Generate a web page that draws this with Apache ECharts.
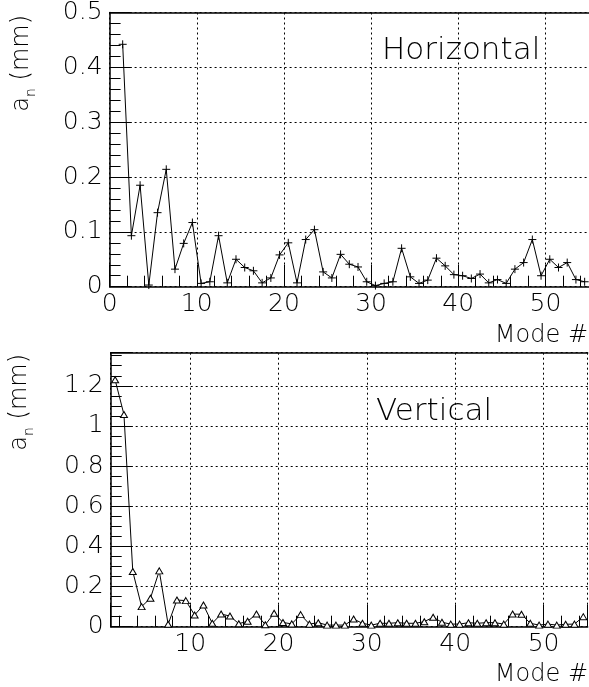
<!DOCTYPE html>
<html>
<head>
<meta charset="utf-8">
<script src="https://cdn.jsdelivr.net/npm/echarts@6/dist/echarts.min.js"></script>
<style>
html,body{margin:0;padding:0;background:#fff;}
#c{width:589px;height:687px;}
</style>
</head>
<body>
<div id="c"></div>
<script>
// Mode positions (bin centres) shared by both panels
const modePos = [1.5,2.5,3.5,4.5,5.5,6.5,7.5,8.5,9.5,10.5,11.5,12.5,13.5,14.5,15.5,16.5,17.5,18.5,19.5,20.5,
  21.5,22.5,23.5,24.5,25.5,26.5,27.5,28.5,29.5,30.5,31.5,32.5,33.5,34.5,35.5,36.5,37.5,38.5,39.5,40.5,
  41.5,42.5,43.5,44.5,45.5,46.5,47.5,48.5,49.5,50.5,51.5,52.5,53.5,54.5];

// Horizontal amplitudes a_n (mm)
const horizAmp = [0.442,0.093,0.185,0.003,0.135,0.214,0.032,0.079,0.117,0.006,
  0.009,0.093,0.007,0.050,0.035,0.029,0.007,0.016,0.058,0.080,
  0.007,0.086,0.104,0.027,0.016,0.059,0.041,0.036,0.009,0.002,
  0.006,0.009,0.070,0.018,0.006,0.012,0.052,0.038,0.022,0.020,
  0.015,0.023,0.007,0.013,0.006,0.032,0.044,0.086,0.020,0.050,
  0.035,0.044,0.013,0.009];

// Vertical amplitudes a_n (mm)
const vertAmp = [1.230,1.057,0.275,0.100,0.142,0.278,0.012,0.133,0.130,0.058,
  0.108,0.017,0.063,0.053,0.015,0.027,0.063,0.010,0.067,0.021,
  0.014,0.060,0.013,0.020,0.008,0.008,0.008,0.038,0.017,0.008,
  0.017,0.017,0.020,0.017,0.017,0.025,0.047,0.022,0.013,0.013,
  0.020,0.017,0.020,0.020,0.013,0.063,0.062,0.017,0.008,0.013,
  0.008,0.012,0.013,0.050];

const FONT = "'DejaVu Sans', sans-serif";
const FW = 200;
const topTitle = 'Horizontal';
const botTitle = 'Vertical';
const xName = 'Mode #';

const chart = echarts.init(document.getElementById('c'), null, {renderer:'canvas'});

const dotted = {show:true, lineStyle:{color:'#000', width:1, type:[2,3]}};
const axisLabelStyle = {color:'#000', fontSize:25, fontFamily:FONT, fontWeight:FW};

function xAxisMain(grid, min, max, extra){
  return Object.assign({
    gridIndex:grid, type:'value', min:min, max:max,
    axisLine:{show:true, onZero:false, lineStyle:{color:'#000', width:1.5}},
    axisTick:{show:true, inside:true, length:22, lineStyle:{color:'#000', width:1}},
    minorTick:{show:true, splitNumber:5, length:11, lineStyle:{color:'#000', width:1}},
    splitLine:dotted,
    axisLabel:Object.assign({margin:5, showMaxLabel:false}, axisLabelStyle)
  }, extra||{});
}
function xAxisTop(grid, min, max){
  return {gridIndex:grid, type:'value', position:'top', min:min, max:max,
    axisLine:{show:true, onZero:false, lineStyle:{color:'#000', width:1.5}},
    axisTick:{show:false}, axisLabel:{show:false}, splitLine:{show:false}};
}
function yAxisMain(grid, min, max, interval, minorSplit, showMax){
  return {gridIndex:grid, type:'value', min:min, max:max, interval:interval,
    axisLine:{show:true, onZero:false, lineStyle:{color:'#000', width:1.5}},
    axisTick:{show:true, inside:true, length:22, lineStyle:{color:'#000', width:1}},
    minorTick:{show:true, splitNumber:minorSplit, length:11, lineStyle:{color:'#000', width:1}},
    splitLine:dotted,
    axisLabel:Object.assign({margin:7, showMaxLabel:showMax}, axisLabelStyle)
  };
}

const plusSymbol = 'path://M0,5L10,5M5,0L5,10';

function yName(x, yTop){
  return {type:'text', x:x, y:yTop, rotation:Math.PI/2,
    style:{text:'{m|a}{s|n}{m| (mm)}', align:'right', verticalAlign:'middle',
      fill:'#000', font:'200 24px ' + FONT,
      rich:{
        m:{fontSize:24, fontFamily:FONT, fontWeight:FW, lineHeight:28, verticalAlign:'top', fill:'#000'},
        s:{fontSize:14, fontFamily:FONT, fontWeight:FW, lineHeight:15, verticalAlign:'bottom', fill:'#000'}
      }}};
}

chart.setOption({
  animation:false,
  backgroundColor:'#fff',
  grid:[
    {left:109.6, top:12, width:481.8, height:274.7, containLabel:false},
    {left:110.7, top:352.7, width:477, height:274, containLabel:false}
  ],
  xAxis:[
    xAxisMain(0, 0, 55, {interval:10}),
    xAxisTop(0, 0, 55),
    xAxisMain(1, 1, 55, {splitNumber:5, axisLabel:Object.assign({margin:5, showMaxLabel:false, showMinLabel:false}, axisLabelStyle)}),
    xAxisTop(1, 1, 55)
  ],
  yAxis:[
    yAxisMain(0, 0, 0.5, 0.1, 5, true),
    yAxisMain(1, 0, 1.365, 0.2, 4, false)
  ],
  series:[
    {type:'line', xAxisIndex:0, yAxisIndex:0,
      data:modePos.map((x,i)=>[x, horizAmp[i]]),
      symbol:plusSymbol, symbolSize:8, showAllSymbol:true,
      lineStyle:{color:'#000', width:1},
      itemStyle:{color:'#000', borderColor:'#000', borderWidth:1}},
    {type:'line', xAxisIndex:2, yAxisIndex:1,
      data:modePos.map((x,i)=>[x, vertAmp[i]]),
      symbol:'triangle', symbolSize:[7,6], showAllSymbol:true,
      lineStyle:{color:'#000', width:1},
      itemStyle:{color:'#fff', borderColor:'#000', borderWidth:1}}
  ],
  graphic:[
    {type:'text', x:382, y:51, style:{text:topTitle, fill:'#000', font:'200 31px ' + FONT, verticalAlign:'middle', align:'left'}},
    {type:'text', x:376, y:412, style:{text:botTitle, fill:'#000', font:'200 31px ' + FONT, verticalAlign:'middle', align:'left'}},
    {type:'text', x:588, y:336, style:{text:xName, fill:'#000', font:'200 24px ' + FONT, verticalAlign:'middle', align:'right'}},
    {type:'text', x:588, y:675, style:{text:xName, fill:'#000', font:'200 24px ' + FONT, verticalAlign:'middle', align:'right'}},
    yName(24, 15),
    yName(22, 354)
  ]
});
</script>
</body>
</html>
